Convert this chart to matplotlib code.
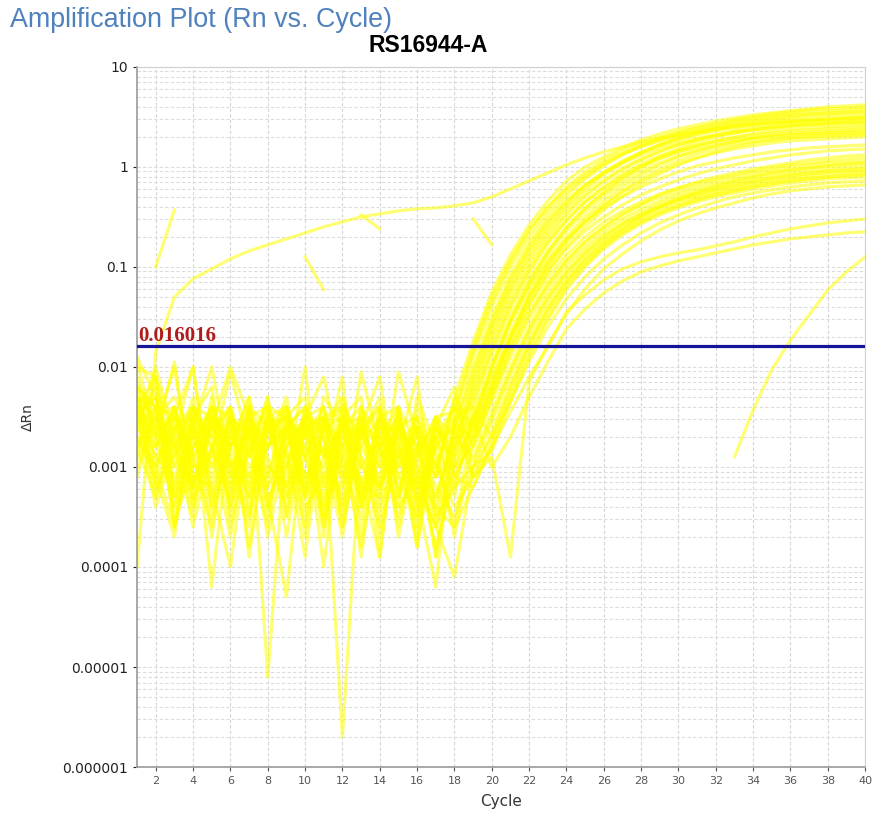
import numpy as np
import matplotlib
matplotlib.use("Agg")
import matplotlib.pyplot as plt
from matplotlib.ticker import LogLocator, NullFormatter

# =====================
# Data (log10 of dRn)
# =====================
cycles = np.arange(1, 41)

# baseline noise, cycles 1-17, one row per well
baseline_lg = [
    [-2.2, -2.6, -2.0, -3.2, -2.4, -3.1, -2.5, -2.8, -2.3, -3.3, -2.6, -2.4, -3.4, -2.5, -2.9, -2.6, -3.1],
    [-1.9, -2.3, -2.9, -2.3, -3.4, -2.4, -2.9, -2.3, -3.5, -2.5, -2.4, -3.6, -2.6, -2.7, -2.4, -3.4, -2.5],
    [-2.4, -2.1, -3.3, -2.5, -2.2, -3.5, -2.4, -2.6, -3.1, -2.0, -3.6, -2.5, -2.3, -3.7, -2.6, -2.5, -3.0],
    [-2.6, -3.0, -3.6, -2.6, -3.1, -2.5, -3.4, -2.4, -2.5, -3.3, -2.3, -2.6, -3.4, -2.4, -3.3, -2.3, -2.8],
    [-2.3, -2.8, -2.4, -3.3, -2.5, -2.8, -2.3, -5.1, -2.6, -2.4, -3.1, -3.2, -2.05, -2.8, -3.5, -2.9, -2.5],
    [-2.5, -2.3, -3.0, -2.4, -4.2, -2.6, -3.2, -2.5, -2.4, -2.9, -3.4, -2.3, -3.2, -3.3, -2.5, -3.1, -3.6],
    [-2.1, -2.7, -3.4, -2.8, -2.6, -2.0, -2.5, -3.3, -4.3, -2.5, -2.6, -5.7, -2.7, -2.3, -3.1, -3.5, -2.6],
    [-2.8, -2.4, -2.5, -3.2, -2.3, -3.0, -3.6, -2.4, -2.8, -3.9, -2.5, -2.8, -2.5, -3.9, -2.4, -2.8, -3.3],
    [-2.4, -3.1, -3.7, -2.4, -2.8, -3.3, -2.4, -3.1, -2.5, -2.3, -3.2, -2.6, -3.9, -2.6, -2.8, -3.3, -4.2],
    [-2.2, -2.4, -2.8, -3.5, -2.4, -2.5, -2.9, -2.3, -3.3, -2.6, -4.0, -2.5, -3.0, -3.2, -2.05, -2.7, -3.1],
    [-3.0, -2.5, -2.3, -2.7, -3.2, -4.0, -2.6, -2.8, -2.4, -3.1, -2.8, -3.3, -2.4, -2.7, -3.4, -2.4, -2.9],
    [-2.3, -3.2, -2.6, -2.5, -2.7, -2.4, -3.9, -2.6, -3.0, -2.5, -2.1, -3.0, -3.5, -2.5, -2.7, -3.8, -2.5],
    [-2.5, -2.2, -3.6, -2.9, -2.5, -3.0, -2.6, -3.5, -2.5, -3.2, -2.6, -2.5, -2.9, -3.6, -2.9, -2.5, -3.4],
    [-2.6, -2.8, -2.4, -3.4, -2.8, -2.5, -3.1, -2.5, -3.2, -2.4, -3.4, -2.8, -2.6, -2.4, -3.7, -2.8, -2.6],
    [-2.2, -3.0, -2.5, -2.0, -3.4, -2.8, -2.4, -3.2, -2.6, -3.5, -2.5, -2.4, -3.3, -2.8, -2.5, -3.2, -2.8],
    [-3.1, -2.4, -3.3, -2.8, -2.4, -3.6, -2.8, -2.5, -3.7, -2.6, -2.9, -2.6, -2.4, -3.4, -2.8, -2.1, -3.5],
    [-2.4, -2.7, -1.95, -3.2, -2.6, -2.4, -3.3, -2.8, -2.4, -2.9, -2.5, -3.6, -2.6, -3.0, -2.4, -3.3, -2.6],
    [-2.3, -2.4, -3.2, -2.5, -3.7, -2.5, -2.7, -3.2, -2.8, -2.5, -3.7, -2.5, -3.2, -2.5, -3.1, -2.8, -3.9],
    [-2.8, -3.3, -2.6, -2.4, -2.5, -3.2, -2.5, -2.4, -3.3, -2.9, -2.4, -3.2, -2.5, -3.2, -2.6, -3.6, -2.5],
    [-2.5, -2.3, -3.6, -2.6, -3.0, -2.6, -3.2, -2.6, -2.5, -3.3, -2.9, -2.1, -3.7, -2.4, -3.3, -2.5, -3.0],
    [-2.0, -2.1, -2.8, -3.2, -2.5, -3.4, -2.4, -3.4, -2.6, -2.4, -2.7, -3.4, -2.6, -2.8, -2.5, -3.2, -3.6],
    [-2.6, -2.0, -2.7, -3.6, -2.8, -2.4, -3.5, -2.5, -3.2, -2.8, -3.3, -2.6, -2.5, -3.3, -2.4, -3.5, -2.6],
    [-2.4, -3.2, -2.9, -2.5, -3.5, -2.8, -2.5, -3.1, -2.4, -3.7, -2.5, -3.0, -2.8, -2.5, -3.6, -2.6, -3.1],
    [-2.9, -2.6, -3.4, -2.8, -2.4, -3.1, -2.6, -3.7, -2.8, -2.5, -3.2, -2.5, -3.4, -2.9, -2.6, -3.0, -3.8],
    [-2.3, -2.8, -2.4, -3.1, -3.2, -2.5, -3.8, -2.6, -2.5, -3.1, -2.8, -3.7, -2.6, -3.2, -2.8, -3.8, -2.7],
    [-2.5, -3.4, -2.8, -2.4, -2.7, -3.4, -2.8, -2.4, -3.5, -2.6, -2.5, -2.9, -3.1, -3.9, -2.5, -3.0, -3.3],
    [-2.2, -2.4, -3.5, -3.0, -2.5, -2.7, -3.1, -2.8, -2.6, -3.4, -3.1, -2.6, -3.3, -2.6, -3.0, -2.6, -3.6],
    [-2.7, -3.0, -2.5, -3.3, -2.8, -3.2, -2.4, -3.3, -3.0, -2.5, -3.5, -2.9, -2.5, -2.8, -3.4, -3.1, -2.6],
    [-2.4, -2.9, -3.1, -2.6, -2.0, -3.0, -2.7, -2.4, -2.9, -3.6, -2.6, -2.3, -2.9, -3.2, -2.6, -2.9, -2.5],
    [-2.8, -2.5, -2.4, -3.0, -2.9, -2.05, -2.8, -3.6, -2.5, -2.7, -2.4, -3.1, -2.7, -2.4, -3.0, -2.7, -3.2],
    [-2.3, -3.3, -2.7, -2.0, -3.3, -2.7, -2.5, -2.9, -3.4, -2.4, -2.9, -2.6, -3.3, -2.5, -2.4, -3.4, -2.8],
    [-2.6, -2.4, -3.0, -2.7, -2.5, -2.9, -3.5, -2.5, -2.7, -2.9, -3.5, -2.4, -2.7, -3.0, -2.7, -2.6, -3.9],
    [-1.95, -2.7, -2.5, -2.9, -3.6, -2.5, -2.7, -2.6, -2.4, -3.2, -2.5, -2.8, -3.8, -2.7, -3.2, -2.8, -2.7],
    [-2.5, -2.9, -2.6, -3.4, -2.6, -2.8, -2.3, -3.0, -3.2, -2.5, -2.7, -3.5, -2.4, -2.9, -2.6, -3.1, -3.4],
    [-2.9, -2.1, -3.2, -2.5, -2.8, -3.7, -2.6, -2.7, -2.5, -2.8, -3.0, -2.5, -2.8, -3.1, -2.5, -3.7, -2.7],
    [-2.4, -2.6, -2.8, -2.4, -3.0, -2.5, -3.0, -2.8, -2.6, -3.3, -2.6, -3.1, -2.6, -2.1, -3.3, -2.6, -3.0],
    [-2.7, -3.1, -2.4, -2.9, -2.6, -3.3, -2.5, -3.4, -2.7, -2.6, -3.6, -2.7, -3.0, -2.7, -2.9, -3.2, -2.7],
    [-2.3, -2.5, -3.3, -2.7, -2.4, -2.8, -3.3, -2.5, -2.9, -2.7, -2.5, -3.4, -2.5, -3.5, -2.6, -2.8, -3.5],
]

# amplification part, cycles 18-40, same well order as baseline_lg
rise_lg = [
    # high-plateau wells
    [-2.3, -1.75, -1.25, -0.88, -0.58, -0.34, -0.14, 0.0, 0.1, 0.19, 0.27, 0.33, 0.38, 0.42, 0.46, 0.49, 0.52, 0.54, 0.56, 0.58, 0.6, 0.61, 0.62],
    [-2.45, -1.85, -1.35, -0.95, -0.64, -0.4, -0.2, -0.05, 0.07, 0.16, 0.24, 0.3, 0.35, 0.39, 0.43, 0.46, 0.49, 0.51, 0.53, 0.55, 0.56, 0.57, 0.58],
    [-2.5, -1.9, -1.4, -1.0, -0.7, -0.45, -0.25, -0.1, 0.03, 0.13, 0.21, 0.27, 0.32, 0.36, 0.4, 0.43, 0.46, 0.48, 0.5, 0.52, 0.53, 0.54, 0.55],
    [-2.6, -2.0, -1.5, -1.08, -0.76, -0.5, -0.29, -0.12, 0.01, 0.12, 0.21, 0.28, 0.34, 0.39, 0.43, 0.47, 0.5, 0.53, 0.55, 0.57, 0.58, 0.59, 0.6],
    [-2.7, -2.1, -1.58, -1.15, -0.82, -0.56, -0.35, -0.18, -0.05, 0.06, 0.15, 0.22, 0.27, 0.32, 0.36, 0.39, 0.42, 0.44, 0.46, 0.47, 0.48, 0.49, 0.5],
    [-2.8, -2.15, -1.62, -1.2, -0.86, -0.6, -0.38, -0.2, -0.06, 0.05, 0.14, 0.22, 0.28, 0.33, 0.37, 0.41, 0.44, 0.47, 0.49, 0.5, 0.51, 0.52, 0.53],
    [-2.9, -2.25, -1.72, -1.28, -0.94, -0.67, -0.45, -0.27, -0.13, -0.01, 0.08, 0.16, 0.22, 0.27, 0.31, 0.34, 0.37, 0.39, 0.41, 0.42, 0.43, 0.44, 0.45],
    [-2.7, -2.3, -1.78, -1.34, -0.99, -0.71, -0.48, -0.3, -0.15, -0.03, 0.07, 0.15, 0.22, 0.28, 0.32, 0.36, 0.39, 0.42, 0.44, 0.45, 0.46, 0.47, 0.48],
    [-2.5, -2.4, -1.88, -1.42, -1.06, -0.77, -0.54, -0.35, -0.2, -0.07, 0.03, 0.11, 0.17, 0.22, 0.26, 0.29, 0.32, 0.34, 0.36, 0.37, 0.38, 0.39, 0.4],
    [-2.8, -2.5, -1.98, -1.5, -1.13, -0.84, -0.6, -0.41, -0.26, -0.12, -0.01, 0.08, 0.15, 0.21, 0.26, 0.3, 0.33, 0.36, 0.38, 0.39, 0.4, 0.41, 0.42],
    [-3.6, -2.55, -2.05, -1.56, -1.18, -0.88, -0.64, -0.45, -0.29, -0.16, -0.05, 0.04, 0.11, 0.17, 0.21, 0.25, 0.28, 0.3, 0.32, 0.33, 0.34, 0.35, 0.36],
    [-2.9, -2.6, -2.15, -1.65, -1.26, -0.95, -0.7, -0.5, -0.34, -0.2, -0.08, 0.02, 0.1, 0.16, 0.21, 0.25, 0.29, 0.32, 0.34, 0.35, 0.36, 0.37, 0.38],
    [-2.6, -2.7, -2.22, -1.72, -1.3, -0.99, -0.74, -0.54, -0.38, -0.24, -0.12, -0.02, 0.06, 0.13, 0.18, 0.22, 0.25, 0.27, 0.29, 0.3, 0.31, 0.32, 0.33],
    [-3.0, -2.8, -2.3, -1.8, -1.38, -1.05, -0.8, -0.6, -0.43, -0.29, -0.17, -0.07, 0.02, 0.09, 0.15, 0.2, 0.24, 0.27, 0.29, 0.3, 0.31, 0.315, 0.32],
    [-2.4, -1.8, -1.3, -0.93, -0.63, -0.4, -0.22, -0.08, 0.04, 0.13, 0.2, 0.26, 0.31, 0.35, 0.38, 0.41, 0.43, 0.45, 0.46, 0.47, 0.48, 0.49, 0.5],
    [-2.6, -2.05, -1.55, -1.12, -0.8, -0.54, -0.34, -0.18, -0.06, 0.04, 0.12, 0.19, 0.24, 0.28, 0.32, 0.35, 0.37, 0.39, 0.41, 0.42, 0.43, 0.44, 0.44],
    [-2.8, -2.2, -1.67, -1.23, -0.9, -0.63, -0.41, -0.23, -0.08, 0.04, 0.14, 0.22, 0.29, 0.35, 0.4, 0.44, 0.47, 0.5, 0.52, 0.53, 0.54, 0.55, 0.56],
    [-2.9, -2.35, -1.83, -1.38, -1.03, -0.75, -0.53, -0.35, -0.21, -0.09, 0.01, 0.09, 0.15, 0.2, 0.24, 0.27, 0.29, 0.31, 0.32, 0.33, 0.34, 0.345, 0.35],
    [-3.0, -2.5, -2.0, -1.53, -1.15, -0.85, -0.61, -0.41, -0.25, -0.11, 0.0, 0.1, 0.18, 0.25, 0.3, 0.34, 0.37, 0.4, 0.42, 0.43, 0.44, 0.45, 0.46],
    [-2.4, -2.65, -2.2, -1.7, -1.3, -0.99, -0.75, -0.55, -0.39, -0.25, -0.14, -0.05, 0.03, 0.09, 0.14, 0.18, 0.21, 0.24, 0.26, 0.27, 0.28, 0.29, 0.3],
    # in-between wells
    [-3.0, -2.6, -2.0, -1.55, -1.2, -0.93, -0.72, -0.55, -0.41, -0.3, -0.2, -0.12, -0.05, 0.01, 0.05, 0.09, 0.12, 0.15, 0.17, 0.19, 0.2, 0.21, 0.22],
    [-3.1, -2.7, -2.2, -1.7, -1.32, -1.04, -0.82, -0.64, -0.5, -0.38, -0.28, -0.2, -0.13, -0.07, -0.02, 0.02, 0.06, 0.09, 0.12, 0.14, 0.16, 0.17, 0.18],
    # mid-plateau wells
    [-2.3, -2.6, -2.1, -1.72, -1.38, -1.1, -0.88, -0.7, -0.55, -0.44, -0.35, -0.27, -0.21, -0.16, -0.12, -0.08, -0.04, -0.01, 0.02, 0.04, 0.06, 0.08, 0.09],
    [-3.1, -2.7, -2.25, -1.8, -1.45, -1.16, -0.93, -0.75, -0.6, -0.48, -0.38, -0.3, -0.24, -0.19, -0.14, -0.1, -0.06, -0.03, 0.0, 0.02, 0.04, 0.05, 0.06],
    [-2.4, -2.8, -2.35, -1.9, -1.52, -1.22, -0.98, -0.8, -0.64, -0.52, -0.42, -0.34, -0.27, -0.22, -0.17, -0.13, -0.09, -0.06, -0.03, -0.01, 0.01, 0.02, 0.03],
    [-2.7, -2.9, -2.45, -2.0, -1.6, -1.28, -1.03, -0.84, -0.68, -0.56, -0.46, -0.37, -0.3, -0.25, -0.2, -0.16, -0.12, -0.09, -0.06, -0.04, -0.02, -0.01, 0.0],
    [-4.1, -3.0, -2.55, -2.08, -1.67, -1.34, -1.08, -0.88, -0.72, -0.59, -0.49, -0.4, -0.33, -0.28, -0.23, -0.19, -0.15, -0.12, -0.09, -0.07, -0.05, -0.04, -0.03],
    [-2.2, -3.1, -2.65, -2.17, -1.74, -1.4, -1.13, -0.92, -0.75, -0.62, -0.51, -0.42, -0.35, -0.3, -0.25, -0.21, -0.17, -0.14, -0.11, -0.09, -0.07, -0.06, -0.05],
    [-3.1, -3.2, -2.75, -2.25, -1.8, -1.45, -1.17, -0.96, -0.79, -0.65, -0.54, -0.45, -0.38, -0.32, -0.27, -0.23, -0.19, -0.16, -0.13, -0.11, -0.1, -0.09, -0.08],
    [-3.5, -3.0, -2.85, -2.35, -1.9, -1.53, -1.23, -1.0, -0.82, -0.68, -0.57, -0.48, -0.41, -0.35, -0.3, -0.26, -0.22, -0.19, -0.16, -0.14, -0.12, -0.11, -0.1],
    [-3.7, -2.75, -2.3, -1.85, -1.48, -1.18, -0.94, -0.75, -0.6, -0.47, -0.37, -0.28, -0.21, -0.15, -0.1, -0.06, -0.02, 0.01, 0.04, 0.07, 0.09, 0.11, 0.12],
    [-2.5, -2.95, -2.5, -2.04, -1.63, -1.31, -1.06, -0.86, -0.7, -0.57, -0.47, -0.39, -0.32, -0.27, -0.22, -0.18, -0.14, -0.11, -0.08, -0.06, -0.04, -0.03, -0.02],
    [-3.3, -2.4, -2.7, -2.2, -1.77, -1.42, -1.14, -0.93, -0.76, -0.62, -0.5, -0.4, -0.32, -0.25, -0.19, -0.14, -0.1, -0.06, -0.03, -0.01, 0.01, 0.03, 0.04],
    [-3.6, -3.2, -2.8, -2.3, -1.86, -1.5, -1.2, -0.98, -0.8, -0.66, -0.55, -0.46, -0.39, -0.33, -0.28, -0.24, -0.2, -0.17, -0.14, -0.12, -0.1, -0.08, -0.07],
    # below mid band
    [-3.2, -3.0, -2.7, -2.35, -1.95, -1.6, -1.32, -1.1, -0.92, -0.78, -0.66, -0.56, -0.48, -0.41, -0.35, -0.3, -0.26, -0.23, -0.2, -0.18, -0.16, -0.15, -0.14],
    [-3.4, -3.1, -2.9, -3.9, -2.15, -1.78, -1.47, -1.22, -1.02, -0.87, -0.74, -0.63, -0.54, -0.47, -0.41, -0.36, -0.31, -0.27, -0.24, -0.22, -0.2, -0.19, -0.18],
    # low-plateau wells
    [-2.6, -3.1, -2.8, -2.45, -2.1, -1.8, -1.45, -1.28, -1.13, -1.02, -0.95, -0.9, -0.86, -0.83, -0.79, -0.75, -0.7, -0.66, -0.62, -0.59, -0.56, -0.54, -0.52],
    [-3.2, -2.5, -3.0, -2.7, -2.3, -1.95, -1.62, -1.42, -1.26, -1.14, -1.05, -0.99, -0.94, -0.9, -0.86, -0.82, -0.78, -0.75, -0.72, -0.7, -0.68, -0.66, -0.65],
]

# well with high background from cycle 2 on
high_bg_lg = [-4.0, -1.85, -1.3, -1.12, -1.02, -0.92, -0.84, -0.78, -0.72, -0.66,
              -0.6, -0.55, -0.5, -0.47, -0.44, -0.42, -0.41, -0.39, -0.36, -0.3,
              -0.22, -0.14, -0.06, 0.02, 0.09, 0.15, 0.2, 0.25, 0.29, 0.32,
              0.35, 0.38, 0.4, 0.42, 0.44, 0.45, 0.46, 0.47, 0.48, 0.49]

# late well, only positive from cycle 33
late_cycles = [33, 34, 35, 36, 37, 38, 39, 40]
late_lg = [-2.9, -2.43, -2.03, -1.73, -1.48, -1.23, -1.05, -0.9]

# short fragments
frag_cycles = [[2, 3], [10, 11], [13, 14], [19, 20]]
frag_lg = [[-1.0, -0.43], [-0.9, -1.23], [-0.48, -0.62], [-0.52, -0.78]]

threshold = 0.016016

ytick_vals = [1e-6, 1e-5, 1e-4, 1e-3, 1e-2, 1e-1, 1, 10]
ytick_labels = ["0.000001", "0.00001", "0.0001", "0.001", "0.01", "0.1", "1", "10"]
xtick_vals = list(range(2, 41, 2))

# =====================
# Plot
# =====================
fig = plt.figure(figsize=(8.73, 8.18), dpi=100)
ax = fig.add_axes([0.157, 0.0623, 0.834, 0.856])

line_kw = dict(color="#ffff00", alpha=0.55, lw=2.3, solid_joinstyle="round")

for base, rise in zip(baseline_lg, rise_lg):
    lg = np.array(base + rise)
    ax.plot(cycles, 10 ** lg, **line_kw)

ax.plot(cycles, 10 ** np.array(high_bg_lg), **line_kw)
ax.plot(late_cycles, 10 ** np.array(late_lg), **line_kw)
for c, v in zip(frag_cycles, frag_lg):
    ax.plot(c, 10 ** np.array(v), **line_kw)

# threshold
ax.axhline(threshold, color="#15159a", lw=2.3, zorder=5)
ax.text(1.05, threshold, f"{threshold:.6f}", color="#b01c1c",
        family="Liberation Serif", fontsize=15, fontweight="bold",
        va="bottom", ha="left", zorder=4)

ax.set_yscale("log")
ax.set_xlim(1, 40)
ax.set_ylim(1e-6, 10)
ax.set_yticks(ytick_vals)
ax.set_yticklabels(ytick_labels)
ax.yaxis.set_minor_locator(LogLocator(base=10, subs=np.arange(2, 10)))
ax.yaxis.set_minor_formatter(NullFormatter())
ax.set_xticks(xtick_vals)

ax.tick_params(axis="y", which="major", labelsize=10, colors="#222222", length=3)
ax.tick_params(axis="y", which="minor", length=0)
ax.tick_params(axis="x", labelsize=8, colors="#555555", length=3)

ax.grid(True, which="major", axis="x", color="#d6d6d6", lw=0.8, ls=(0, (3, 2)))
ax.grid(True, which="both", axis="y", color="#dcdcdc", lw=0.8, ls=(0, (3, 2)))
ax.set_axisbelow(True)

for side in ["left", "bottom"]:
    ax.spines[side].set_color("#9a9a9a")
    ax.spines[side].set_linewidth(1.2)
for side in ["top", "right"]:
    ax.spines[side].set_color("#cfcfcf")

ax.set_xlabel("Cycle", fontsize=11, color="#333333", labelpad=6)
ax.set_ylabel("\u0394Rn", fontsize=10, color="#333333")
ax.yaxis.set_label_coords(-0.14, 0.5)

fig.text(0.012, 0.967, "Amplification Plot (Rn vs. Cycle)", family="Liberation Sans",
         fontsize=19.4, color="#4f81bd", ha="left", va="baseline")
fig.text(0.49, 0.937, "RS16944-A", family="Liberation Sans", fontsize=16.5,
         fontweight="bold", color="black", ha="center", va="baseline")

plt.savefig("out.png")
